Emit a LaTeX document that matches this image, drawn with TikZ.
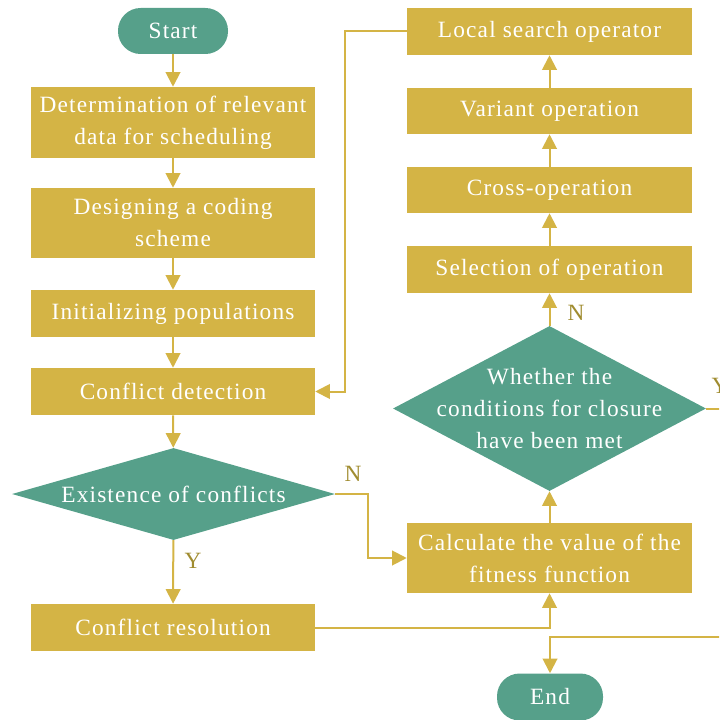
\documentclass[tikz,border=0pt]{standalone}
\usepackage{fontspec}
\setmainfont{Liberation Serif}[LetterSpace=5]
\usetikzlibrary{shapes.geometric,arrows.meta}
\definecolor{gold}{HTML}{D4B445}
\definecolor{tealc}{HTML}{56A08A}
\definecolor{labc}{HTML}{A08C30}
\begin{document}
\begin{tikzpicture}[x=0.75pt,y=-0.75pt,
  txt/.style={font=\fontsize{17.5}{24}\selectfont, text=white, align=center},
  box/.style={txt, rectangle, fill=gold, minimum width=213pt, inner sep=0pt},
  pill/.style={txt, rectangle, rounded corners=17pt, fill=tealc, inner sep=0pt},
  dia/.style={diamond, fill=tealc, inner sep=0pt},
  lbl/.style={font=\fontsize{17.5}{24}\selectfont, text=labc, inner sep=0pt},
  arr/.style={draw=gold, line width=1.5pt, -{Triangle[length=11pt,width=11pt]}},
  ln/.style={draw=gold, line width=1.5pt}
]
\useasboundingbox (0,0) rectangle (719,720);
\clip (0,0) rectangle (719,720);

% left column
\node[pill, minimum width=82.5pt, minimum height=34.5pt] (start) at (173,31) {Start};
\node[box, minimum height=53.25pt] (b1) at (173,122.5) {Determination of relevant\\data for scheduling};
\node[box, minimum height=52.5pt] (b2) at (173,223) {Designing a coding\\scheme};
\node[box, minimum height=35.25pt] (b3) at (173,313.5) {Initializing populations};
\node[box, minimum height=35.25pt] (b4) at (173,391.5) {Conflict detection};
\node[dia, minimum width=242.25pt, minimum height=69pt] (d1) at (173.5,494) {};
\node[txt] (d1t) at (173.5,494) {Existence of conflicts};
\node[box, minimum height=35.25pt] (res) at (173,627.5) {Conflict resolution};

% right column
\node[box, minimum width=213.75pt, minimum height=35.25pt] (ls) at (549.5,31.5) {Local search operator};
\node[box, minimum width=213.75pt, minimum height=34.5pt] (var) at (549.5,111) {Variant operation};
\node[box, minimum width=213.75pt, minimum height=34.5pt] (cross) at (549.5,190) {Cross-operation};
\node[box, minimum width=213.75pt, minimum height=35.25pt] (sel) at (549.5,269.5) {Selection of operation};
\node[dia, minimum width=234.75pt, minimum height=123.75pt] (d2) at (549.5,408.5) {};
\node[txt] (d2t) at (549.5,408.5) {Whether the\\conditions for closure\\have been met};
\node[box, minimum width=213.75pt, minimum height=52.5pt] (calc) at (549.5,558) {Calculate the value of the\\fitness function};
\node[pill, minimum width=79.5pt, minimum height=35.25pt] (end) at (550,697) {End};

% labels
\node[lbl] (ly1) at (193,561) {Y};
\node[lbl] (ln1) at (353,474) {N};
\node[lbl] (ln2) at (576,313) {N};
\node[lbl] (ly2) at (720,386) {Y};

% helper coordinates
\coordinate (n1) at (368,494);
\coordinate (lp) at (345,31.5);
\coordinate (e1) at (730,408.5);
\coordinate (e2) at (730,637);

% connectors
\draw[arr] (start) -- (b1);
\draw[arr] (b1) -- (b2);
\draw[arr] (b2) -- (b3);
\draw[arr] (b3) -- (b4);
\draw[arr] (b4) -- (d1);
\draw[arr] (d1) -- (res);
\draw[arr] (d1.east) -- (n1) |- (calc.west);
\draw[arr] (res.east) -| (calc.south);
\draw[arr] (calc) -- (d2);
\draw[arr] (d2) -- (sel);
\draw[arr] (sel) -- (cross);
\draw[arr] (cross) -- (var);
\draw[arr] (var) -- (ls);
\draw[arr] (ls.west) -- (lp) |- (b4.east);
\draw[ln] (d2.east) -- (e1);
\draw[arr] (e2) -| (end.north);
\end{tikzpicture}
\end{document}
